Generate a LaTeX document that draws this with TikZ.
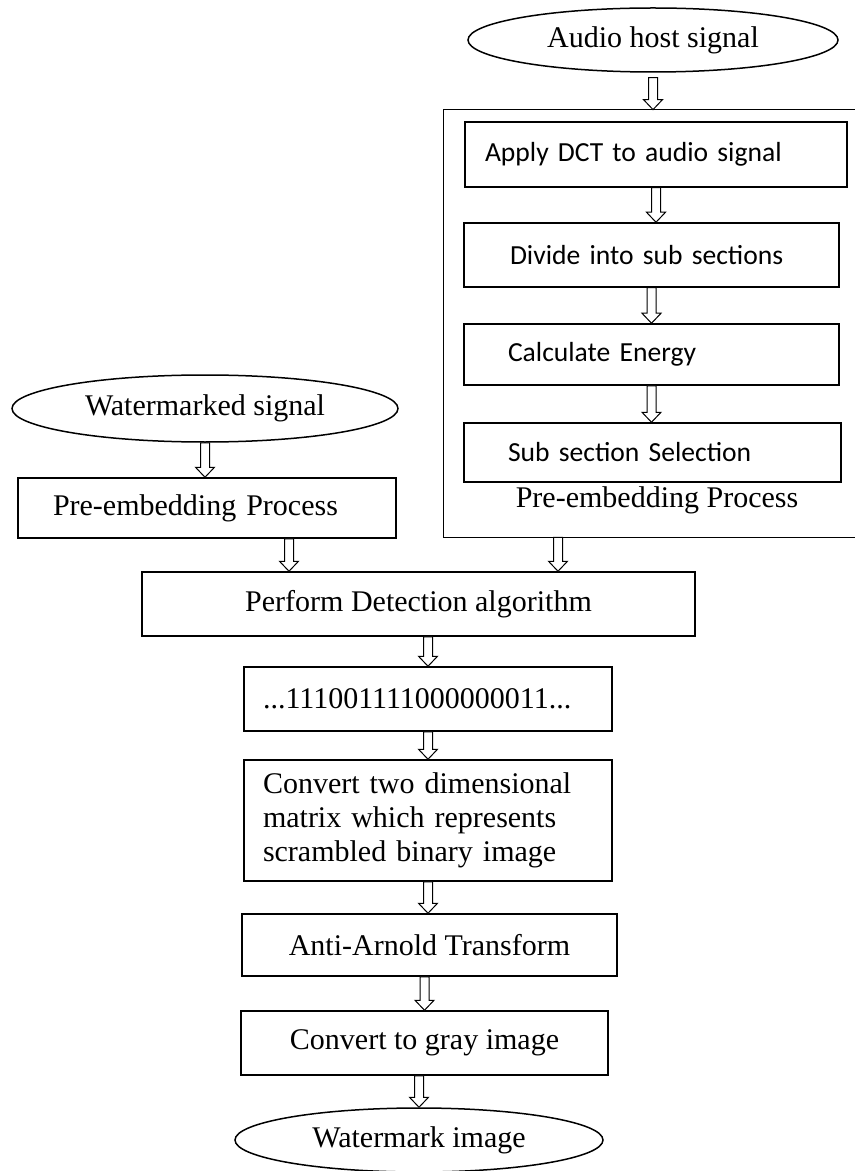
\documentclass[tikz,border=0pt]{standalone}
\usepackage{fontspec}
\setmainfont{Liberation Serif}
\newfontfamily\calibri{Carlito}
\usetikzlibrary{calc,shapes.geometric}

\tikzset{
    box/.style={draw, line width=0.75pt, inner sep=0pt, font=\fontsize{15}{17}\selectfont},
    lbox/.style={box, align=left, inner xsep=#1, inner ysep=0pt},
    sbox/.style={draw, line width=0.75pt, align=left, inner ysep=0pt, inner xsep=#1, font=\calibri\fontsize{13.8}{16}\selectfont},
    oval/.style={draw, ellipse, line width=0.75pt, inner sep=0pt, font=\fontsize{15}{17}\selectfont},
    arr/.style={line width=0.5pt, fill=white}
}

\newcommand{\hollow}[2]{%
    \draw[arr] ($(#1)+(-4.5,0)$) -- ($(#2)+(-4.5,-10)$) -- ($(#2)+(-9.5,-10)$) -- (#2)
        -- ($(#2)+(9.5,-10)$) -- ($(#2)+(4.5,-10)$) -- ($(#1)+(4.5,0)$) -- cycle;}

\begin{document}
\begin{tikzpicture}[x=0.5pt, y=-0.5pt]
    \useasboundingbox (0,0) rectangle (855,1171);

    \node[oval, minimum width=185pt, minimum height=32pt] (audio) at (653,40) {Audio host signal};

    \node[inner sep=0pt, minimum width=205.5pt, minimum height=213.5pt] (frame) at (649.5,323.5) {};
    \draw[line width=0.75pt] (frame.north east) -| (frame.south west) -- (frame.south east);

    \node[sbox=10pt, text width=171pt, minimum height=32.5pt] (dct) at (656,154.5) {Apply DCT to audio signal};
    \node[sbox=23pt, text width=141.5pt, minimum height=32pt] (divide) at (651.5,255) {Divide into sub sections};
    \node[sbox=22pt, text width=143.5pt, minimum height=30.5pt] (energy) at (651.5,354.5) {Calculate Energy};
    \node[sbox=22pt, text width=144.5pt, minimum height=29.5pt] (select) at (652.5,452.5) {Sub section Selection};
    \node[font=\fontsize{15}{17}\selectfont, inner sep=0pt] (prelabel) at (657,500) {Pre-embedding Process};

    \node[oval, minimum width=193pt, minimum height=33.5pt] (marked) at (205,408.5) {Watermarked signal};
    \node[lbox=17.5pt, text width=154pt, minimum height=30pt] (pre) at (207,508) {Pre-embedding Process};

    \node[box, minimum width=276.5pt, minimum height=32pt] (detect) at (418.5,604) {Perform Detection algorithm};
    \node[lbox=9.5pt, text width=165pt, minimum height=32pt] (bits) at (428,699) {...111001111000000011...};
    \node[lbox=9.5pt, text width=165pt, minimum height=60.5pt] (matrix) at (428,820.5) {Convert two dimensional\\matrix which represents\\scrambled binary image};
    \node[box, minimum width=187.5pt, minimum height=31pt] (arnold) at (429.5,945) {Anti-Arnold Transform};
    \node[box, minimum width=183.5pt, minimum height=32pt] (gray) at (424.5,1043) {Convert to gray image};
    \node[oval, minimum width=184pt, minimum height=32pt] (mark) at (419,1140) {Watermark image};

    \coordinate (inL) at (289,0);
    \coordinate (inR) at (558,0);

    \hollow{$(audio.south)+(0,5)$}{frame.north -| audio.south}
    \hollow{dct.south}{divide.north -| dct.south}
    \hollow{divide.south}{energy.north -| divide.south}
    \hollow{energy.south}{select.north -| energy.south}
    \hollow{marked.south}{pre.north -| marked.south}
    \hollow{pre.south -| inL}{detect.north -| inL}
    \hollow{frame.south -| inR}{detect.north -| inR}
    \hollow{detect.south -| bits.south}{bits.north}
    \hollow{bits.south}{matrix.north}
    \hollow{matrix.south}{arnold.north -| matrix.south}
    \hollow{arnold.south -| gray.north}{gray.north}
    \hollow{gray.south -| mark.north}{mark.north}
\end{tikzpicture}
\end{document}
